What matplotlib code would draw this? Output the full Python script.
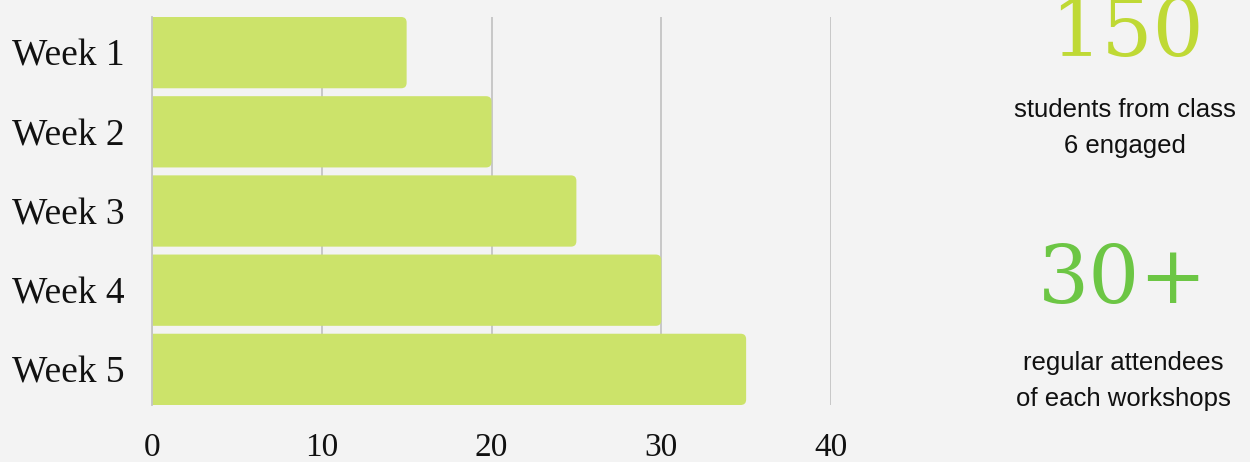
import matplotlib.pyplot as plt
from matplotlib.patches import FancyBboxPatch

weeks = ['Week 1', 'Week 2', 'Week 3', 'Week 4', 'Week 5']
values = [15, 20, 25, 30, 35]
x_ticks = [0, 10, 20, 30, 40]

stat1_value = '150'
stat1_text = 'students from class\n6 engaged'
stat2_value = '30+'
stat2_text = 'regular attendees\nof each workshops'

bg = '#f3f3f3'
bar_color = '#cce36a'

fig = plt.figure(figsize=(12.5, 4.62), dpi=100)
fig.patch.set_facecolor(bg)
ax = fig.add_axes([152 / 1250, 1 - 405 / 462, (831 - 152) / 1250, (405 - 17) / 462])
ax.set_facecolor(bg)

ypos = list(range(len(weeks)))
bar_h = 0.9
# bars with slightly rounded right ends (left end hidden under the axis clip)
px_x = (831 - 152) / 40.0
px_y = (405 - 17) / (len(weeks) - 0.1)
for y, v in zip(ypos, values):
    p = FancyBboxPatch((-0.6, y - bar_h / 2), v + 0.6, bar_h,
                       boxstyle='round,pad=0,rounding_size=0.32',
                       mutation_aspect=px_x / px_y,
                       facecolor=bar_color, edgecolor='none', zorder=3)
    ax.add_patch(p)

ax.set_xlim(0, 40)
ax.set_ylim(len(weeks) - 0.55, -0.45)
ax.set_xticks(x_ticks)
ax.set_xticklabels([str(t) for t in x_ticks])
ax.set_yticks(ypos)
ax.set_yticklabels(weeks)
ax.xaxis.grid(True, color='#c4c4c4', linewidth=1.3, zorder=0)
ax.set_axisbelow(True)
for s in ['top', 'right', 'bottom']:
    ax.spines[s].set_visible(False)
ax.spines['left'].set_color('#c4c4c4')
ax.spines['left'].set_linewidth(1.3)
ax.spines['left'].set_zorder(4)
ax.tick_params(axis='both', length=0, colors='#111111')
ax.tick_params(axis='y', pad=19.5, labelsize=27)
ax.tick_params(axis='x', pad=20, labelsize=24)
for lab in ax.get_xticklabels() + ax.get_yticklabels():
    lab.set_fontfamily('Liberation Serif')

# right-hand stats
fig.text(1127 / 1250, 1 - 56 / 462, stat1_value, ha='center', va='baseline',
         fontsize=58, color='#bfd935', family='DejaVu Serif')
fig.text(1125 / 1250, 1 - 128 / 462, stat1_text, ha='center', va='center',
         fontsize=18.5, color='#111111', family='Liberation Sans', linespacing=1.6)
fig.text(1123 / 1250, 1 - 303 / 462, stat2_value, ha='center', va='baseline',
         fontsize=58, color='#6cc644', family='DejaVu Serif')
fig.text(1123 / 1250, 1 - 381 / 462, stat2_text, ha='center', va='center',
         fontsize=18.5, color='#111111', family='Liberation Sans', linespacing=1.6)

plt.savefig('out.png', dpi=100, facecolor=bg)
